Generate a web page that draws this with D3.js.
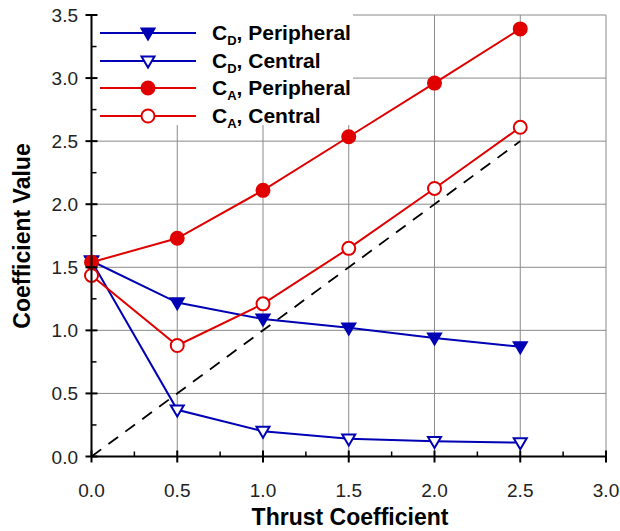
<!DOCTYPE html>
<html><head><meta charset="utf-8">
<script src="https://cdn.jsdelivr.net/npm/d3@7"></script>
<style>body{margin:0;background:#fff}svg{display:block}text{font-family:"Liberation Sans",Arial,sans-serif}</style>
</head><body><svg id="c" width="620" height="531"></svg>
<script>
const thrust = [0, 0.5, 1.0, 1.5, 2.0, 2.5];
const cdPeripheral = [1.55, 1.22, 1.09, 1.02, 0.94, 0.87];
const cdCentral = [1.55, 0.37, 0.20, 0.14, 0.12, 0.11];
const caPeripheral = [1.54, 1.73, 2.11, 2.535, 2.96, 3.39];
const caCentral = [1.435, 0.88, 1.21, 1.65, 2.125, 2.61];
const refLine = [[0, 0], [2.5, 2.5]];
const xTicks = [0, 0.5, 1.0, 1.5, 2.0, 2.5, 3.0];
const yTicks = [0, 0.5, 1.0, 1.5, 2.0, 2.5, 3.0, 3.5];
const series = [
  {name: "D", label: ", Peripheral", values: cdPeripheral, color: "#0000b4", marker: "tri", filled: true},
  {name: "D", label: ", Central", values: cdCentral, color: "#0000b4", marker: "tri", filled: false},
  {name: "A", label: ", Peripheral", values: caPeripheral, color: "#e00000", marker: "circle", filled: true},
  {name: "A", label: ", Central", values: caCentral, color: "#e00000", marker: "circle", filled: false}
];

const svg = d3.select("#c");
const x = d3.scaleLinear().domain([0, 3]).range([91.5, 606]);
const y = d3.scaleLinear().domain([0, 3.5]).range([456.5, 15]);

// grid
const g = svg.append("g");
g.selectAll(".gx").data(xTicks.slice(1)).join("line")
  .attr("x1", d => x(d)).attr("x2", d => x(d)).attr("y1", y(0)).attr("y2", y(3.5))
  .attr("stroke", "#8a8a8a").attr("stroke-width", 1);
g.selectAll(".gy").data(yTicks.slice(1)).join("line")
  .attr("x1", x(0)).attr("x2", x(3)).attr("y1", d => y(d)).attr("y2", d => y(d))
  .attr("stroke", "#8a8a8a").attr("stroke-width", 1);

// legend background
svg.append("rect").attr("x", x(0) + 1).attr("y", 0).attr("width", 352 - x(0)).attr("height", 125).attr("fill", "#fff");

// reference dashed line
svg.append("line").attr("x1", x(refLine[0][0])).attr("y1", y(refLine[0][1]))
  .attr("x2", x(refLine[1][0])).attr("y2", y(refLine[1][1]))
  .attr("stroke", "#000").attr("stroke-width", 1.8).attr("stroke-dasharray", "12,9");

function drawMarker(sel, s, cx, cy) {
  if (s.marker === "tri") {
    const w = 6.5, h = 11;
    sel.append("path").attr("d", `M${cx - w},${cy - h * 0.4}L${cx + w},${cy - h * 0.4}L${cx},${cy + h * 0.6}Z`)
      .attr("fill", s.filled ? s.color : "#fff").attr("stroke", s.color).attr("stroke-width", 2);
  } else {
    sel.append("circle").attr("cx", cx).attr("cy", cy).attr("r", 6.5)
      .attr("fill", s.filled ? s.color : "#fff").attr("stroke", s.color).attr("stroke-width", 2);
  }
}

const line = d3.line().x((d, i) => x(thrust[i])).y(d => y(d));
series.forEach(s => {
  const sg = svg.append("g");
  sg.append("path").attr("d", line(s.values)).attr("fill", "none").attr("stroke", s.color).attr("stroke-width", 2);
  s.values.forEach((v, i) => drawMarker(sg, s, x(thrust[i]), y(v)));
});

// axes
const ax = svg.append("g");
ax.append("line").attr("x1", x(0)).attr("x2", x(3)).attr("y1", y(0)).attr("y2", y(0)).attr("stroke", "#000").attr("stroke-width", 2);
ax.append("line").attr("x1", x(0)).attr("x2", x(0)).attr("y1", y(0)).attr("y2", y(3.5)).attr("stroke", "#000").attr("stroke-width", 2);
const xMinor = d3.range(0.25, 3, 0.5);
const yMinor = d3.range(0.25, 3.5, 0.5);
ax.selectAll(".xt").data(xTicks).join("line").attr("x1", d => x(d)).attr("x2", d => x(d))
  .attr("y1", y(0) - 6).attr("y2", y(0) + 6).attr("stroke", "#000").attr("stroke-width", 2);
ax.selectAll(".xm").data(xMinor).join("line").attr("x1", d => x(d)).attr("x2", d => x(d))
  .attr("y1", y(0) - 5).attr("y2", y(0)).attr("stroke", "#000").attr("stroke-width", 1.5);
ax.selectAll(".yt").data(yTicks).join("line").attr("y1", d => y(d)).attr("y2", d => y(d))
  .attr("x1", x(0) - 6).attr("x2", x(0) + 6).attr("stroke", "#000").attr("stroke-width", 2);
ax.selectAll(".ym").data(yMinor).join("line").attr("y1", d => y(d)).attr("y2", d => y(d))
  .attr("x1", x(0)).attr("x2", x(0) + 5).attr("stroke", "#000").attr("stroke-width", 1.5);

ax.selectAll(".xl").data(xTicks).join("text").attr("x", d => x(d)).attr("y", 497)
  .attr("text-anchor", "middle").attr("font-size", 19).attr("fill", "#222").text(d => d.toFixed(1));
ax.selectAll(".yl").data(yTicks).join("text").attr("x", 78).attr("y", d => y(d) + 7)
  .attr("text-anchor", "end").attr("font-size", 19).attr("fill", "#222").text(d => d.toFixed(1));

svg.append("text").attr("x", 350).attr("y", 525).attr("text-anchor", "middle")
  .attr("font-size", 23).attr("font-weight", "bold").text("Thrust Coefficient");
svg.append("text").attr("transform", "translate(30,236) rotate(-90)").attr("text-anchor", "middle")
  .attr("font-size", 23).attr("font-weight", "bold").text("Coefficient Value");

// legend
const rows = [33, 61, 88, 116];
series.forEach((s, i) => {
  const lg = svg.append("g");
  lg.append("line").attr("x1", 100).attr("x2", 196).attr("y1", rows[i]).attr("y2", rows[i]).attr("stroke", s.color).attr("stroke-width", 2);
  drawMarker(lg, s, 148, rows[i]);
  const t = lg.append("text").attr("x", 212).attr("y", rows[i] + 7).attr("font-size", 21).attr("font-weight", "bold");
  t.append("tspan").text("C");
  t.append("tspan").attr("font-size", 13).attr("dy", 5).text(s.name);
  t.append("tspan").attr("dy", -5).text(s.label);
});
</script></body></html>
